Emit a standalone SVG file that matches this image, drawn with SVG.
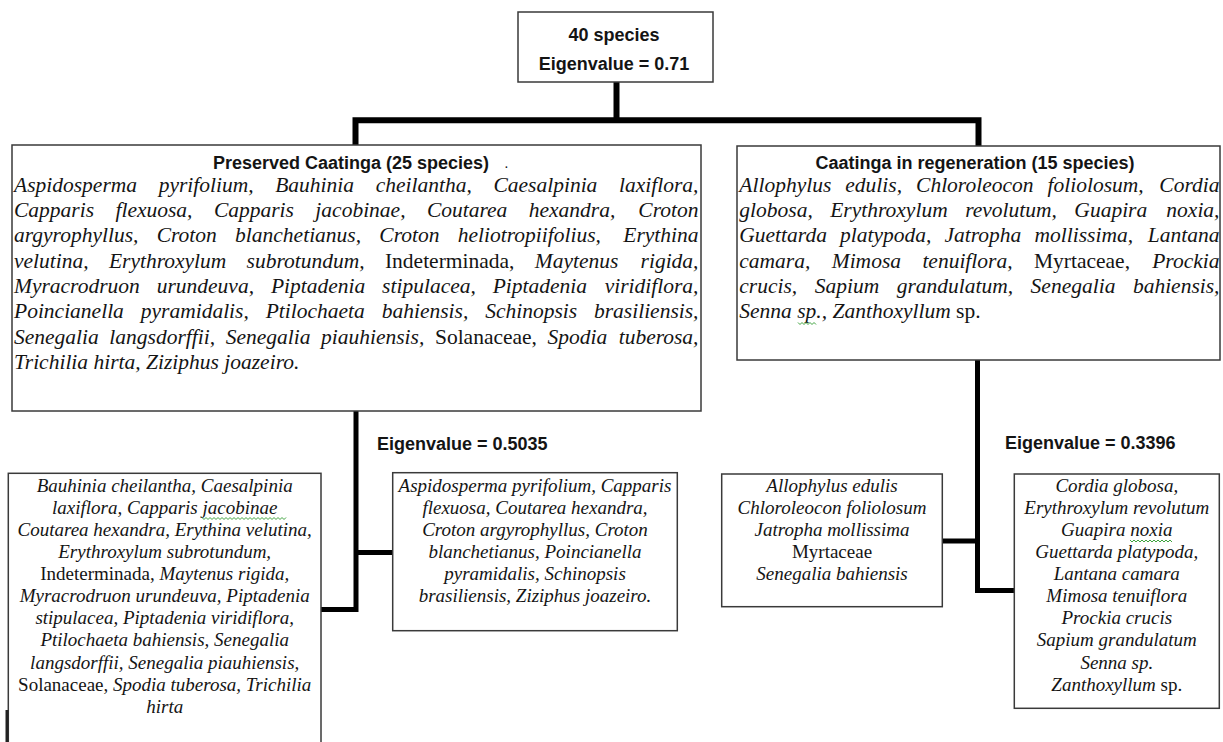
<svg xmlns="http://www.w3.org/2000/svg" width="1223" height="742" viewBox="0 0 1223 742">
<style>
.box{fill:#fff;stroke:#3a3a3a;stroke-width:1.5}
.con{fill:none;stroke:#000;stroke-linejoin:miter;stroke-linecap:butt}
.t{font-family:"Liberation Serif","Times New Roman",serif;font-style:italic;fill:#141414}
.big{font-size:21.5px}
.sm{font-size:19px;text-anchor:middle}
.r{font-style:normal}
.e{text-anchor:end}
.b{font-family:"Liberation Sans",Arial,sans-serif;font-weight:bold;font-size:18px;fill:#141414}
.c{text-anchor:middle}
.sq{fill:none;stroke:#3fa33f;stroke-width:1}
</style>
<rect width="1223" height="742" fill="#fff"/>
<g id="connectors">
<path class="con" stroke-width="6" d="M616.5 82 V120.3"/>
<path class="con" stroke-width="6" d="M355.5 145 V120.3 H978.5 V146"/>
<path class="con" stroke-width="5" d="M356 411 V609.5 H321"/>
<path class="con" stroke-width="5" d="M356 552.5 H393"/>
<path class="con" stroke-width="5" d="M977.5 360 V590.5 H1014.3"/>
<path class="con" stroke-width="5" d="M942.3 541 H977.5"/>
</g>
<g id="root">
<rect class="box" x="518" y="12" width="195" height="70"/>
<text class="b c" x="614" y="41">40 species</text>
<text class="b c" x="614" y="69.5">Eigenvalue = 0.71</text>
</g>
<g id="preserved">
<rect class="box" x="12" y="145" width="689" height="266"/>
<text class="b c" x="351" y="169">Preserved Caatinga (25 species)</text>
<text class="b" x="505" y="168" style="font-size:10px" fill="#777">.</text>
<text class="t big" x="14" y="191.7" word-spacing="16.25">Aspidosperma pyrifolium, Bauhinia cheilantha, Caesalpinia</text>
<text class="t big e" x="698.5" y="191.7">laxiflora,</text>
<text class="t big" x="14" y="217" word-spacing="16.04">Capparis flexuosa, Capparis jacobinae, Coutarea hexandra,</text>
<text class="t big e" x="698.5" y="217">Croton</text>
<text class="t big" x="14" y="242.3" word-spacing="12.9">argyrophyllus, Croton blanchetianus, Croton heliotropiifolius,</text>
<text class="t big e" x="698.5" y="242.3">Erythina</text>
<text class="t big" x="14" y="267.6" word-spacing="14.9">velutina, Erythroxylum subrotundum, <tspan class="r">Indeterminada,</tspan> Maytenus</text>
<text class="t big e" x="698.5" y="267.6">rigida,</text>
<text class="t big" x="14" y="293" word-spacing="11.5">Myracrodruon urundeuva, Piptadenia stipulacea, Piptadenia</text>
<text class="t big e" x="698.5" y="293">viridiflora,</text>
<text class="t big" x="14" y="318.3" word-spacing="11.5">Poincianella pyramidalis, Ptilochaeta bahiensis, Schinopsis</text>
<text class="t big e" x="698.5" y="318.3">brasiliensis,</text>
<text class="t big" x="14" y="343.6" word-spacing="5.2">Senegalia langsdorffii, Senegalia piauhiensis, <tspan class="r">Solanaceae,</tspan> Spodia</text>
<text class="t big e" x="698.5" y="343.6">tuberosa,</text>
<text class="t big" x="14" y="369">Trichilia hirta, Ziziphus joazeiro.</text>
</g>
<g id="regeneration">
<rect class="box" x="737" y="146" width="483" height="214"/>
<text class="b c" x="975" y="169.3">Caatinga in regeneration (15 species)</text>
<text class="t big" x="739.3" y="191.7" word-spacing="8.66">Allophylus edulis, Chloroleocon foliolosum,</text>
<text class="t big e" x="1219.5" y="191.7">Cordia</text>
<text class="t big" x="739.3" y="217" word-spacing="12.1">globosa, Erythroxylum revolutum, Guapira</text>
<text class="t big e" x="1219.5" y="217">noxia,</text>
<text class="t big" x="739.3" y="242.3" word-spacing="7.76">Guettarda platypoda, Jatropha mollissima,</text>
<text class="t big e" x="1219.5" y="242.3">Lantana</text>
<text class="t big" x="739.3" y="267.6" word-spacing="16">camara, Mimosa tenuiflora, <tspan class="r">Myrtaceae,</tspan></text>
<text class="t big e" x="1219.5" y="267.6">Prockia</text>
<text class="t big" x="739.3" y="293" word-spacing="12.1">crucis, Sapium grandulatum, Senegalia</text>
<text class="t big e" x="1219.5" y="293">bahiensis,</text>
<text class="t big" x="739.3" y="318.3">Senna sp., Zanthoxyllum <tspan class="r">sp.</tspan></text>
<path class="sq" d="M798 322.5 l2 2 l2 -2 l2 2 l2 -2 l2 2 l2 -2 l2 2 l2 -2 l2 2"/>
</g>
<g id="preserved-a">
<rect class="box" x="8.3" y="473.3" width="312.7" height="290"/>
<path d="M7 710 V742" stroke="#222" stroke-width="3"/>
<text class="t sm" x="164.7" y="491.7">Bauhinia cheilantha, Caesalpinia</text>
<text class="t sm" x="164.7" y="513.8">laxiflora, Capparis jacobinae</text>
<path class="sq" d="M202 517.5 l2 2 l2 -2 l2 2 l2 -2 l2 2 l2 -2 l2 2 l2 -2 l2 2 l2 -2 l2 2 l2 -2 l2 2 l2 -2 l2 2 l2 -2 l2 2 l2 -2 l2 2 l2 -2 l2 2 l2 -2 l2 2 l2 -2 l2 2 l2 -2 l2 2 l2 -2 l2 2 l2 -2 l2 2 l2 -2 l2 2 l2 -2 l2 2 l2 -2 l2 2 l2 -2 l2 2 l2 -2 l2 2 l2 -2"/>
<text class="t sm" x="164.7" y="535.9">Coutarea hexandra, Erythina velutina,</text>
<text class="t sm" x="164.7" y="558">Erythroxylum subrotundum,</text>
<text class="t sm" x="164.7" y="580.1"><tspan class="r">Indeterminada,</tspan> Maytenus rigida,</text>
<text class="t sm" x="164.7" y="602.2">Myracrodruon urundeuva, Piptadenia</text>
<text class="t sm" x="164.7" y="624.3">stipulacea, Piptadenia viridiflora,</text>
<text class="t sm" x="164.7" y="646.4">Ptilochaeta bahiensis, Senegalia</text>
<text class="t sm" x="164.7" y="668.5">langsdorffii, Senegalia piauhiensis,</text>
<text class="t sm" x="164.7" y="690.6"><tspan class="r">Solanaceae,</tspan> Spodia tuberosa, Trichilia</text>
<text class="t sm" x="164.7" y="712.7">hirta</text>
</g>
<g id="eig-left">
<text class="b" x="377" y="450">Eigenvalue = 0.5035</text>
</g>
<g id="preserved-b">
<rect class="box" x="392.7" y="472.7" width="284.6" height="158"/>
<text class="t sm" x="535" y="491.7">Aspidosperma pyrifolium, Capparis</text>
<text class="t sm" x="535" y="513.8">flexuosa, Coutarea hexandra,</text>
<text class="t sm" x="535" y="535.9">Croton argyrophyllus, Croton</text>
<text class="t sm" x="535" y="558">blanchetianus, Poincianella</text>
<text class="t sm" x="535" y="580.1">pyramidalis, Schinopsis</text>
<text class="t sm" x="535" y="602.2">brasiliensis, Ziziphus joazeiro.</text>
</g>
<g id="eig-right">
<text class="b" x="1005" y="449.3">Eigenvalue = 0.3396</text>
</g>
<g id="regeneration-a">
<rect class="box" x="721.7" y="474" width="220.6" height="132.7"/>
<text class="t sm" x="832" y="491.7">Allophylus edulis</text>
<text class="t sm" x="832" y="513.8">Chloroleocon foliolosum</text>
<text class="t sm" x="832" y="535.9">Jatropha mollissima</text>
<text class="t sm r" x="832" y="558">Myrtaceae</text>
<text class="t sm" x="832" y="580.1">Senegalia bahiensis</text>
</g>
<g id="regeneration-b">
<rect class="box" x="1014.3" y="474" width="205" height="234.3"/>
<text class="t sm" x="1116.8" y="491.7">Cordia globosa,</text>
<text class="t sm" x="1116.8" y="513.8">Erythroxylum revolutum</text>
<text class="t sm" x="1116.8" y="535.9">Guapira noxia</text>
<path class="sq" d="M1130 540 l2 2 l2 -2 l2 2 l2 -2 l2 2 l2 -2 l2 2 l2 -2 l2 2 l2 -2 l2 2 l2 -2 l2 2 l2 -2 l2 2 l2 -2 l2 2 l2 -2 l2 2 l2 -2 l2 2"/>
<text class="t sm" x="1116.8" y="558">Guettarda platypoda,</text>
<text class="t sm" x="1116.8" y="580.1">Lantana camara</text>
<text class="t sm" x="1116.8" y="602.2">Mimosa tenuiflora</text>
<text class="t sm" x="1116.8" y="624.3">Prockia crucis</text>
<text class="t sm" x="1116.8" y="646.4">Sapium grandulatum</text>
<text class="t sm" x="1116.8" y="668.5">Senna sp.</text>
<text class="t sm" x="1116.8" y="690.6">Zanthoxyllum <tspan class="r">sp.</tspan></text>
</g>
</svg>
